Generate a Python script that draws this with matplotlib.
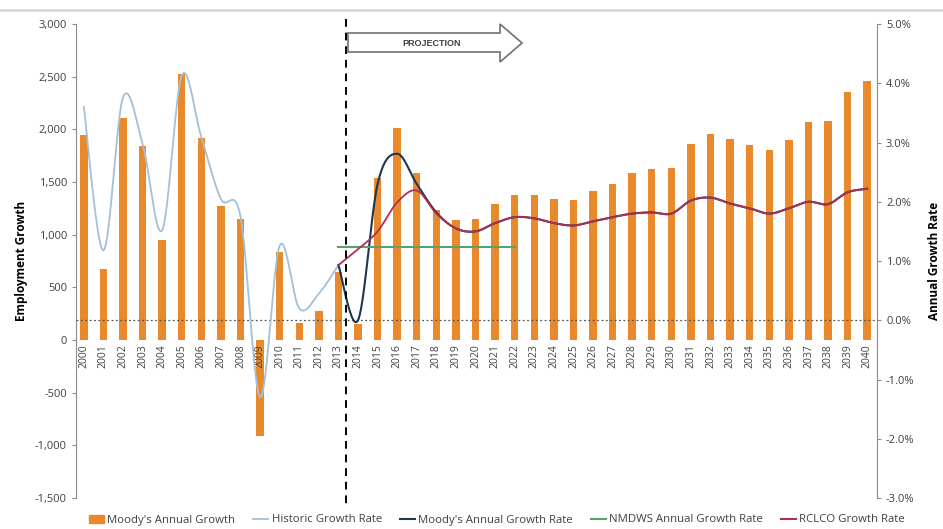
import numpy as np
import matplotlib.pyplot as plt
from matplotlib.patches import Polygon, Patch
from matplotlib.lines import Line2D

plt.rcParams['font.family'] = ['Open Sans', 'DejaVu Sans']

years = list(range(2000, 2041))
moodys_growth = [1950, 670, 2110, 1845, 945, 2530, 1920, 1275, 1150, -910,
                 840, 160, 280, 650, 150, 1540, 2010, 1590, 1235, 1140,
                 1150, 1295, 1380, 1380, 1340, 1330, 1415, 1485, 1590, 1620,
                 1635, 1860, 1960, 1910, 1855, 1800, 1900, 2070, 2075, 2355,
                 2460]

hist_years = list(range(2000, 2014))
hist_rate = [3.6, 1.18, 3.76, 2.98, 1.52, 4.13, 3.09, 2.05, 1.75, -1.3,
             1.26, 0.2, 0.45, 0.93]

proj_years = list(range(2013, 2041))
moodys_rate = [0.93, 0.0, 2.3, 2.81, 2.3, 1.82, 1.55, 1.5, 1.64, 1.74,
               1.72, 1.64, 1.6, 1.67, 1.74, 1.8, 1.82, 1.8, 2.02, 2.07,
               1.97, 1.89, 1.8, 1.89, 2.0, 1.96, 2.16, 2.22]
rclco_rate = [0.93, 1.2, 1.5, 1.99, 2.19, 1.8, 1.55, 1.5, 1.64, 1.74,
              1.72, 1.64, 1.6, 1.67, 1.74, 1.8, 1.82, 1.8, 2.02, 2.07,
              1.97, 1.89, 1.8, 1.89, 2.0, 1.96, 2.16, 2.22]
nmdws_years = list(range(2013, 2023))
nmdws_rate = [1.23] * 10


def smooth(xs, ys, n=24):
    # Excel-style smoothed line (Bezier through the points)
    p = np.column_stack([xs, ys]).astype(float)
    pts = np.vstack([p[0], p, p[-1]])
    out = []
    t = np.linspace(0, 1, n)[:, None]
    for i in range(1, len(pts) - 2):
        p0, p1, p2, p3 = pts[i - 1], pts[i], pts[i + 1], pts[i + 2]
        c1 = p1 + (p2 - p0) / 6
        c2 = p2 - (p3 - p1) / 6
        seg = ((1 - t) ** 3) * p1 + 3 * ((1 - t) ** 2) * t * c1 + 3 * (1 - t) * t ** 2 * c2 + t ** 3 * p2
        out.append(seg if i == 1 else seg[1:])
    out = np.vstack(out)
    return out[:, 0], out[:, 1]


fig = plt.figure(figsize=(9.43, 5.29), dpi=100)
ax = fig.add_axes([0.0806, 0.0586, 0.8494, 0.896])
ax2 = ax.twinx()

idx = np.array(years) - 2000
bar_c = '#E8892B'
ax.bar(idx, moodys_growth, width=0.38, color=bar_c, zorder=2)
ax.set_ylim(-1500, 3000)
ax.set_xlim(-0.4, 40.5)
ax.set_yticks(range(-1500, 3001, 500))
ax.set_yticklabels([f'{v:,}' for v in range(-1500, 3001, 500)])
ax.set_xticks([])
ax.set_ylabel('Employment Growth', fontsize=8.5, fontweight='bold', labelpad=5)

for i, y in zip(idx, years):
    ax.text(i, -40, str(y), rotation=90, ha='center', va='top',
            fontsize=7.5, color='#404040')

ax2.set_ylim(-3, 5)
ax2.set_yticks(range(-3, 6))
ax2.set_yticklabels([f'{v:.1f}%' for v in range(-3, 6)])
ax2.set_ylabel('Annual Growth Rate', fontsize=8.5, fontweight='bold', labelpad=10)
ax2.axhline(0, color='#555555', lw=0.9, ls=(0, (1.5, 2)), zorder=1)

hx, hy = smooth(np.array(hist_years) - 2000, hist_rate)
ax2.plot(hx, hy, color='#A3C0D8', lw=1.3, zorder=3)
mx, my = smooth(np.array(proj_years) - 2000, moodys_rate)
ax2.plot(mx, my, color='#1F3550', lw=1.5, zorder=3)
ax2.plot(np.array(nmdws_years) - 2000, nmdws_rate, color='#5E9E72', lw=1.5, zorder=3)
rx, ry = smooth(np.array(proj_years) - 2000, rclco_rate)
ax2.plot(rx, ry, color='#B03050', lw=1.3, zorder=4)

for a in (ax, ax2):
    for s in ('top', 'bottom'):
        a.spines[s].set_visible(False)
    a.tick_params(axis='y', labelsize=8, colors='#8c8c8c', labelcolor='#404040',
                  length=3, width=0.8)
    a.spines['left'].set_color('#8c8c8c')
    a.spines['right'].set_color('#8c8c8c')
ax.spines['right'].set_visible(False)
ax2.spines['left'].set_visible(False)

# projection divider
ax2.plot([13.4, 13.4], [1.01, -0.02], transform=ax2.get_xaxis_transform(),
         color='black', lw=1.4, ls=(0, (4, 3)), clip_on=False, zorder=5)

# projection arrow (figure pixel positions)
W, H = 943, 529
px = [(348, 33), (500, 33), (500, 24), (522, 43), (500, 62), (500, 52), (348, 52)]
arrow = Polygon([(x / W, 1 - y / H) for x, y in px], closed=True,
                transform=fig.transFigure, facecolor='white', edgecolor='#707070', lw=1.2)
fig.add_artist(arrow)
fig.text(432 / W, 1 - 43 / H, 'PROJECTION', ha='center', va='center', fontsize=6.5,
         fontweight='bold', color='#404040', family=['Liberation Sans', 'DejaVu Sans'])

# page border line at top
fig.add_artist(Line2D([0, 1], [1 - 10 / H, 1 - 10 / H], transform=fig.transFigure,
                      color='#d9d9d9', lw=2))

handles = [Patch(color=bar_c),
           Line2D([], [], color='#A3C0D8', lw=1.3),
           Line2D([], [], color='#1F3550', lw=1.5),
           Line2D([], [], color='#5E9E72', lw=1.5),
           Line2D([], [], color='#B03050', lw=1.5)]
labels = ["Moody's Annual Growth", 'Historic Growth Rate', "Moody's Annual Growth Rate",
          'NMDWS Annual Growth Rate', 'RCLCO Growth Rate']
fig.legend(handles, labels, loc='center', bbox_to_anchor=(497 / W, 1 - 520 / H), ncol=5,
           frameon=False, fontsize=8.2, handlelength=1.3, handletextpad=0.3,
           columnspacing=1.6, labelcolor='#404040')

fig.savefig('out.png', dpi=100)
